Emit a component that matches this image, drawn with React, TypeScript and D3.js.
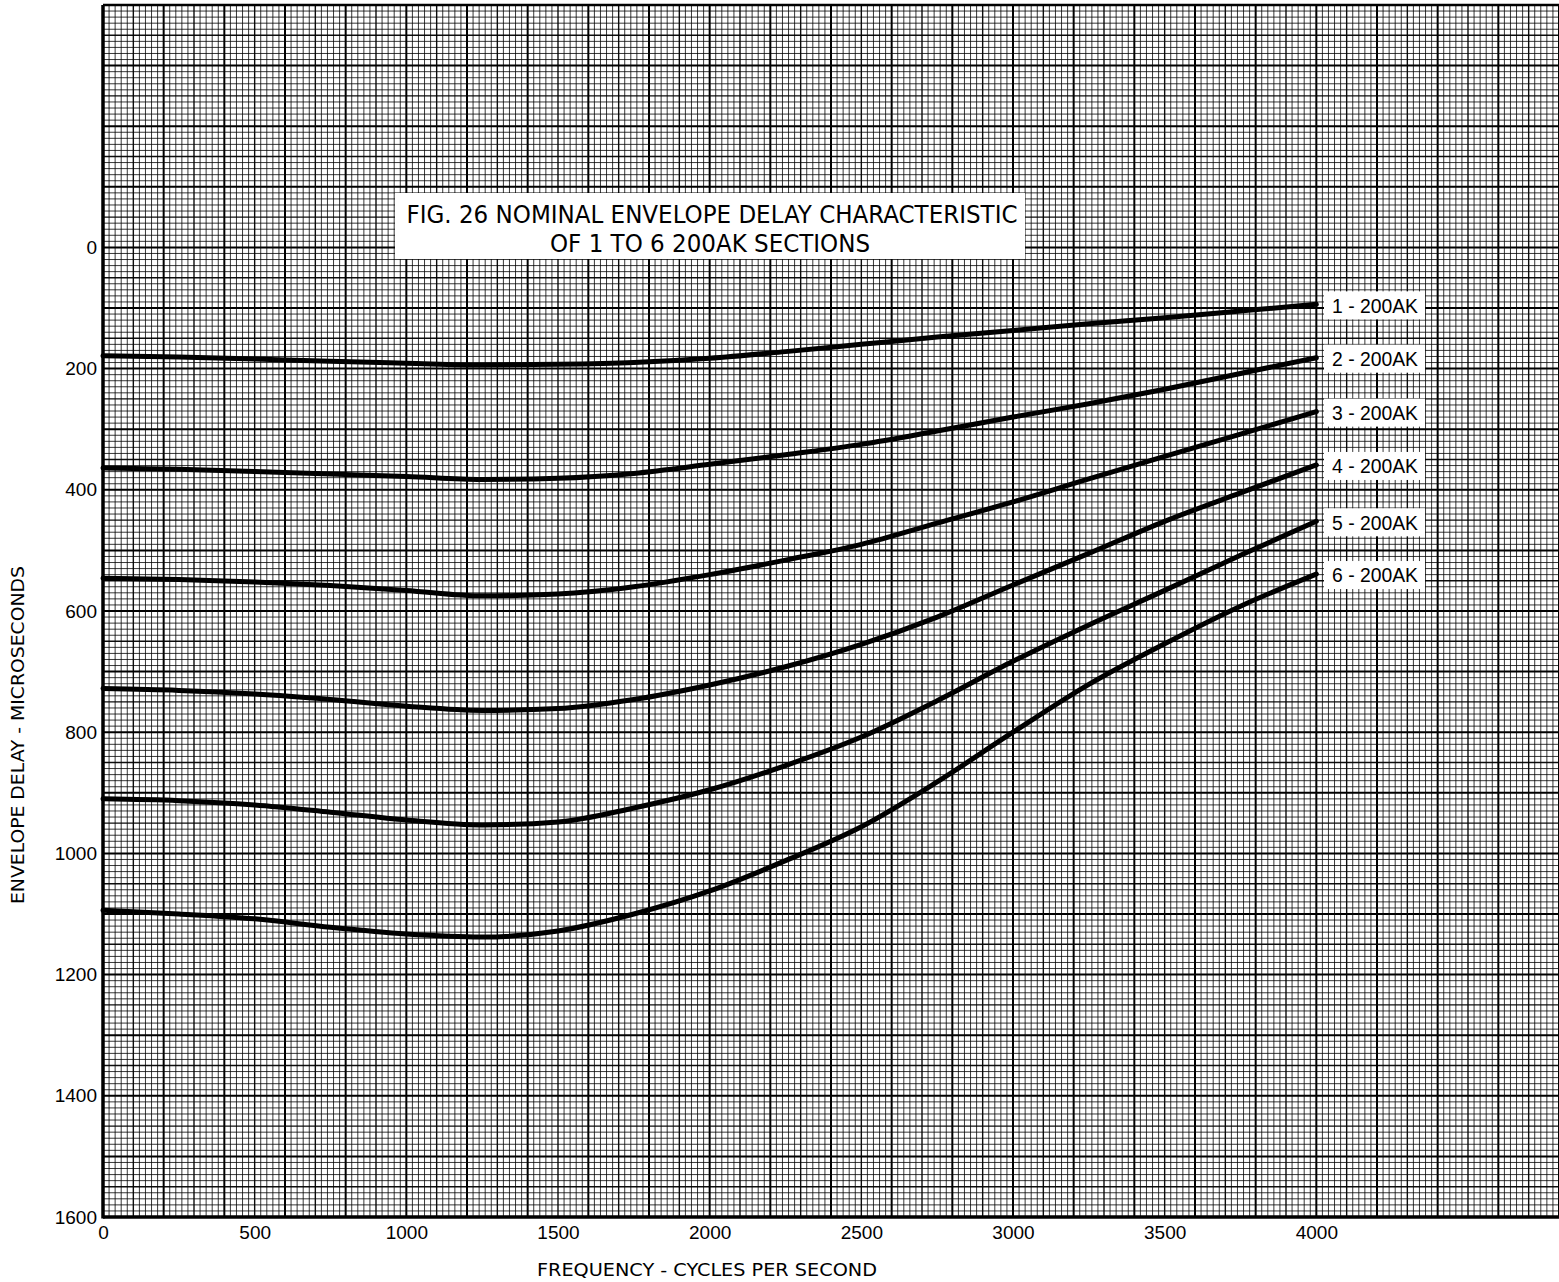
import React, { useEffect, useRef } from "react";
import * as d3 from "d3";

// frequency points the curves were read at (cycles per second)
const freqs = [0, 250, 500, 750, 1000, 1250, 1500, 1750, 2000, 2250, 2500, 2750, 3000, 3250, 3500, 3750, 4000];

// envelope delay in microseconds, one list per number of 200AK sections
const delay1 = [179, 181, 184, 188, 191, 194, 193, 190, 183, 172, 160, 148, 137, 126, 116, 105, 94];
const delay2 = [364, 366, 370, 374, 378, 383, 381, 373, 358, 342, 325, 303, 280, 258, 234, 208, 182];
const delay3 = [546, 548, 552, 558, 566, 575, 572, 560, 540, 516, 490, 455, 420, 382, 345, 308, 271];
const delay4 = [728, 731, 737, 746, 757, 764, 761, 746, 722, 692, 655, 610, 557, 505, 452, 405, 359];
const delay5 = [910, 913, 920, 932, 945, 953, 948, 925, 895, 855, 808, 748, 683, 623, 566, 508, 452];
const delay6 = [1094, 1100, 1108, 1122, 1133, 1138, 1128, 1100, 1062, 1012, 956, 882, 800, 721, 654, 592, 539];

const curveLabels = ["1 - 200AK", "2 - 200AK", "3 - 200AK", "4 - 200AK", "5 - 200AK", "6 - 200AK"];

const xTicks = [0, 500, 1000, 1500, 2000, 2500, 3000, 3500, 4000];
const yTicks = [0, 200, 400, 600, 800, 1000, 1200, 1400, 1600];

const titleLines = ["FIG. 26 NOMINAL ENVELOPE DELAY CHARACTERISTIC", "OF 1 TO 6 200AK SECTIONS"];
const xTitle = "FREQUENCY - CYCLES PER SECOND";
const yTitle = "ENVELOPE DELAY - MICROSECONDS";

const W = 1559;
const H = 1282;
const narrow = "'Liberation Sans Narrow', 'DejaVu Sans Condensed', 'Roboto', sans-serif";
const plain = "'Liberation Sans', 'Roboto', Arial, sans-serif";

function App() {
    const chart = useRef(null);

    useEffect(() => {
        const svg = d3.select(chart.current);
        const series = [delay1, delay2, delay3, delay4, delay5, delay6];

        // graph paper: 0..4800 across, -400..1600 down
        const x = d3.scaleLinear().domain([0, 4800]).range([103, 1559]);
        const y = d3.scaleLinear().domain([-400, 1600]).range([5, 1217]);

        svg.append("rect").attr("width", W).attr("height", H).attr("fill", "#fff");

        const grid = svg.append("g");
        const lineStyle = (i) => {
            if (i % 10 === 0) return { w: 2, o: 1 };
            if (i % 5 === 0) return { w: 1.4, o: 0.95 };
            return { w: 1, o: 0.78 };
        };

        // vertical grid lines every 20 c/s
        grid.selectAll(".vgrid")
            .data(d3.range(0, 4801, 20))
            .enter()
            .append("line")
            .attr("class", "vgrid")
            .attr("x1", d => x(d))
            .attr("x2", d => x(d))
            .attr("y1", y(-400))
            .attr("y2", y(1600))
            .attr("stroke", "#000")
            .attr("stroke-width", d => lineStyle(Math.round(d / 20)).w)
            .attr("stroke-opacity", d => lineStyle(Math.round(d / 20)).o);

        // horizontal grid lines every 10 microseconds
        grid.selectAll(".hgrid")
            .data(d3.range(-400, 1601, 10))
            .enter()
            .append("line")
            .attr("class", "hgrid")
            .attr("x1", x(0))
            .attr("x2", x(4800))
            .attr("y1", d => y(d))
            .attr("y2", d => y(d))
            .attr("stroke", "#000")
            .attr("stroke-width", d => lineStyle(Math.round((d + 400) / 10)).w)
            .attr("stroke-opacity", d => lineStyle(Math.round((d + 400) / 10)).o);

        // frame
        svg.append("line")
            .attr("x1", x(0)).attr("x2", x(0))
            .attr("y1", y(-400)).attr("y2", y(1600) + 1.5)
            .attr("stroke", "#000").attr("stroke-width", 3.5);
        svg.append("line")
            .attr("x1", x(0)).attr("x2", x(4800))
            .attr("y1", y(1600)).attr("y2", y(1600))
            .attr("stroke", "#000").attr("stroke-width", 3.5);
        svg.append("line")
            .attr("x1", x(0)).attr("x2", x(4800))
            .attr("y1", y(-400)).attr("y2", y(-400))
            .attr("stroke", "#000").attr("stroke-width", 2.5);

        // axes
        const yAxis = svg.append("g")
            .attr("transform", "translate(" + x(0) + ",0)")
            .call(d3.axisLeft(y).tickValues(yTicks).tickFormat(d3.format("d")).tickSize(0).tickPadding(6));
        const xAxis = svg.append("g")
            .attr("transform", "translate(0," + y(1600) + ")")
            .call(d3.axisBottom(x).tickValues(xTicks).tickFormat(d3.format("d")).tickSize(0).tickPadding(9));
        [xAxis, yAxis].forEach(a => {
            a.select(".domain").remove();
            a.selectAll("text")
                .attr("fill", "#000")
                .style("font-family", plain)
                .style("font-size", "19px");
        });

        svg.append("text")
            .attr("transform", "translate(24,735) rotate(-90)")
            .attr("text-anchor", "middle")
            .attr("textLength", 338)
            .attr("lengthAdjust", "spacingAndGlyphs")
            .style("font-family", narrow)
            .style("font-size", "17px")
            .text(yTitle);
        svg.append("text")
            .attr("x", 707)
            .attr("y", 1276)
            .attr("text-anchor", "middle")
            .attr("textLength", 340)
            .attr("lengthAdjust", "spacingAndGlyphs")
            .style("font-family", narrow)
            .style("font-size", "17px")
            .text(xTitle);

        // curves
        const line = d3.line()
            .x((d, i) => x(freqs[i]))
            .y(d => y(d))
            .curve(d3.curveMonotoneX);
        svg.selectAll(".delay-curve")
            .data(series)
            .enter()
            .append("path")
            .attr("class", "delay-curve")
            .attr("d", line)
            .attr("fill", "none")
            .attr("stroke", "#000")
            .attr("stroke-width", 5)
            .attr("stroke-linecap", "round");

        // curve labels in white boxes at the line ends
        const labels = svg.selectAll(".curve-label")
            .data(series)
            .enter()
            .append("g")
            .attr("class", "curve-label")
            .attr("transform", d => "translate(1324," + (y(d[d.length - 1]) + 1) + ")");
        labels.append("rect")
            .attr("x", 0).attr("y", -14)
            .attr("width", 101).attr("height", 28)
            .attr("fill", "#fff");
        labels.append("text")
            .attr("x", 8)
            .attr("dy", "0.36em")
            .attr("textLength", 86)
            .attr("lengthAdjust", "spacingAndGlyphs")
            .style("font-family", plain)
            .style("font-size", "20px")
            .text((d, i) => curveLabels[i]);

        // title box
        svg.append("rect")
            .attr("x", 395).attr("y", 193)
            .attr("width", 630).attr("height", 66)
            .attr("fill", "#fff");
        svg.append("text")
            .attr("x", 712).attr("y", 223)
            .attr("text-anchor", "middle")
            .attr("textLength", 611)
            .attr("lengthAdjust", "spacingAndGlyphs")
            .style("font-family", narrow)
            .style("font-size", "24px")
            .text(titleLines[0]);
        svg.append("text")
            .attr("x", 710).attr("y", 252)
            .attr("text-anchor", "middle")
            .attr("textLength", 320)
            .attr("lengthAdjust", "spacingAndGlyphs")
            .style("font-family", narrow)
            .style("font-size", "24px")
            .text(titleLines[1]);

        return () => {
            svg.selectAll("*").remove();
        };
    }, []);

    return (
        <svg
            ref={chart}
            width={W}
            height={H}
            style={{ position: "absolute", left: 0, top: 0, display: "block" }}
        ></svg>
    );
}

export default App;
